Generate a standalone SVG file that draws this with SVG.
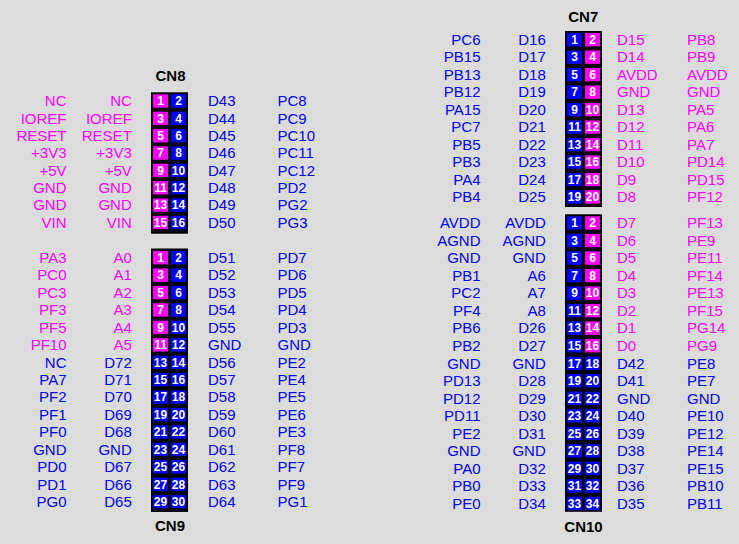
<svg xmlns="http://www.w3.org/2000/svg" width="739" height="544" viewBox="0 0 739 544">
<style>
text{font-family:"Liberation Sans",Arial,sans-serif}
.l{font-size:15px}
.e{text-anchor:end}
.pm{fill:#f0f}
.pb{fill:#00f}
.n{font-size:12px;font-weight:bold;fill:#fff;text-anchor:middle}
.t{font-size:15px;font-weight:bold;fill:#000;text-anchor:middle}
</style>
<rect width="739" height="544" fill="#dcdcdc"/>
<g id="connectors"/>

<g id="CN8">
<text class="t" x="170.5" y="81">CN8</text>
<rect x="151" y="92.3" width="37" height="141.4" fill="#000"/>
<g transform="translate(0,94.3)"><rect class="pm" x="153" width="15" height="13.4"/><rect class="pb" x="171" width="15" height="13.4"/><text class="n" x="160.5" y="11">1</text><text class="n" x="178.5" y="11">2</text><text class="l pm e" x="66.5" y="12">NC</text><text class="l pm e" x="131.8" y="12">NC</text><text class="l pb" x="208" y="12">D43</text><text class="l pb" x="277.5" y="12">PC8</text></g>
<g transform="translate(0,111.65)"><rect class="pm" x="153" width="15" height="13.4"/><rect class="pb" x="171" width="15" height="13.4"/><text class="n" x="160.5" y="11">3</text><text class="n" x="178.5" y="11">4</text><text class="l pm e" x="66.5" y="12">IOREF</text><text class="l pm e" x="131.8" y="12">IOREF</text><text class="l pb" x="208" y="12">D44</text><text class="l pb" x="277.5" y="12">PC9</text></g>
<g transform="translate(0,129)"><rect class="pm" x="153" width="15" height="13.4"/><rect class="pb" x="171" width="15" height="13.4"/><text class="n" x="160.5" y="11">5</text><text class="n" x="178.5" y="11">6</text><text class="l pm e" x="66.5" y="12">RESET</text><text class="l pm e" x="131.8" y="12">RESET</text><text class="l pb" x="208" y="12">D45</text><text class="l pb" x="277.5" y="12">PC10</text></g>
<g transform="translate(0,146.35)"><rect class="pm" x="153" width="15" height="13.4"/><rect class="pb" x="171" width="15" height="13.4"/><text class="n" x="160.5" y="11">7</text><text class="n" x="178.5" y="11">8</text><text class="l pm e" x="66.5" y="12">+3V3</text><text class="l pm e" x="131.8" y="12">+3V3</text><text class="l pb" x="208" y="12">D46</text><text class="l pb" x="277.5" y="12">PC11</text></g>
<g transform="translate(0,163.7)"><rect class="pm" x="153" width="15" height="13.4"/><rect class="pb" x="171" width="15" height="13.4"/><text class="n" x="160.5" y="11">9</text><text class="n" x="178.5" y="11">10</text><text class="l pm e" x="66.5" y="12">+5V</text><text class="l pm e" x="131.8" y="12">+5V</text><text class="l pb" x="208" y="12">D47</text><text class="l pb" x="277.5" y="12">PC12</text></g>
<g transform="translate(0,181.05)"><rect class="pm" x="153" width="15" height="13.4"/><rect class="pb" x="171" width="15" height="13.4"/><text class="n" x="160.5" y="11">11</text><text class="n" x="178.5" y="11">12</text><text class="l pm e" x="66.5" y="12">GND</text><text class="l pm e" x="131.8" y="12">GND</text><text class="l pb" x="208" y="12">D48</text><text class="l pb" x="277.5" y="12">PD2</text></g>
<g transform="translate(0,198.4)"><rect class="pm" x="153" width="15" height="13.4"/><rect class="pb" x="171" width="15" height="13.4"/><text class="n" x="160.5" y="11">13</text><text class="n" x="178.5" y="11">14</text><text class="l pm e" x="66.5" y="12">GND</text><text class="l pm e" x="131.8" y="12">GND</text><text class="l pb" x="208" y="12">D49</text><text class="l pb" x="277.5" y="12">PG2</text></g>
<g transform="translate(0,215.75)"><rect class="pm" x="153" width="15" height="13.4"/><rect class="pb" x="171" width="15" height="13.4"/><text class="n" x="160.5" y="11">15</text><text class="n" x="178.5" y="11">16</text><text class="l pm e" x="66.5" y="12">VIN</text><text class="l pm e" x="131.8" y="12">VIN</text><text class="l pb" x="208" y="12">D50</text><text class="l pb" x="277.5" y="12">PG3</text></g>
</g>

<g id="CN9">
<rect x="151" y="248.5" width="37" height="263.5" fill="#000"/>
<g transform="translate(0,251)"><rect class="pm" x="153" width="15" height="13.4"/><rect class="pb" x="171" width="15" height="13.4"/><text class="n" x="160.5" y="11">1</text><text class="n" x="178.5" y="11">2</text><text class="l pm e" x="66.5" y="12">PA3</text><text class="l pm e" x="131.8" y="12">A0</text><text class="l pb" x="208" y="12">D51</text><text class="l pb" x="277.5" y="12">PD7</text></g>
<g transform="translate(0,268.43)"><rect class="pm" x="153" width="15" height="13.4"/><rect class="pb" x="171" width="15" height="13.4"/><text class="n" x="160.5" y="11">3</text><text class="n" x="178.5" y="11">4</text><text class="l pm e" x="66.5" y="12">PC0</text><text class="l pm e" x="131.8" y="12">A1</text><text class="l pb" x="208" y="12">D52</text><text class="l pb" x="277.5" y="12">PD6</text></g>
<g transform="translate(0,285.86)"><rect class="pm" x="153" width="15" height="13.4"/><rect class="pb" x="171" width="15" height="13.4"/><text class="n" x="160.5" y="11">5</text><text class="n" x="178.5" y="11">6</text><text class="l pm e" x="66.5" y="12">PC3</text><text class="l pm e" x="131.8" y="12">A2</text><text class="l pb" x="208" y="12">D53</text><text class="l pb" x="277.5" y="12">PD5</text></g>
<g transform="translate(0,303.29)"><rect class="pm" x="153" width="15" height="13.4"/><rect class="pb" x="171" width="15" height="13.4"/><text class="n" x="160.5" y="11">7</text><text class="n" x="178.5" y="11">8</text><text class="l pm e" x="66.5" y="12">PF3</text><text class="l pm e" x="131.8" y="12">A3</text><text class="l pb" x="208" y="12">D54</text><text class="l pb" x="277.5" y="12">PD4</text></g>
<g transform="translate(0,320.72)"><rect class="pm" x="153" width="15" height="13.4"/><rect class="pb" x="171" width="15" height="13.4"/><text class="n" x="160.5" y="11">9</text><text class="n" x="178.5" y="11">10</text><text class="l pm e" x="66.5" y="12">PF5</text><text class="l pm e" x="131.8" y="12">A4</text><text class="l pb" x="208" y="12">D55</text><text class="l pb" x="277.5" y="12">PD3</text></g>
<g transform="translate(0,338.15)"><rect class="pm" x="153" width="15" height="13.4"/><rect class="pb" x="171" width="15" height="13.4"/><text class="n" x="160.5" y="11">11</text><text class="n" x="178.5" y="11">12</text><text class="l pm e" x="66.5" y="12">PF10</text><text class="l pm e" x="131.8" y="12">A5</text><text class="l pb" x="208" y="12">GND</text><text class="l pb" x="277.5" y="12">GND</text></g>
<g transform="translate(0,355.58)"><rect class="pb" x="153" width="15" height="13.4"/><rect class="pb" x="171" width="15" height="13.4"/><text class="n" x="160.5" y="11">13</text><text class="n" x="178.5" y="11">14</text><text class="l pb e" x="66.5" y="12">NC</text><text class="l pb e" x="131.8" y="12">D72</text><text class="l pb" x="208" y="12">D56</text><text class="l pb" x="277.5" y="12">PE2</text></g>
<g transform="translate(0,373.01)"><rect class="pb" x="153" width="15" height="13.4"/><rect class="pb" x="171" width="15" height="13.4"/><text class="n" x="160.5" y="11">15</text><text class="n" x="178.5" y="11">16</text><text class="l pb e" x="66.5" y="12">PA7</text><text class="l pb e" x="131.8" y="12">D71</text><text class="l pb" x="208" y="12">D57</text><text class="l pb" x="277.5" y="12">PE4</text></g>
<g transform="translate(0,390.44)"><rect class="pb" x="153" width="15" height="13.4"/><rect class="pb" x="171" width="15" height="13.4"/><text class="n" x="160.5" y="11">17</text><text class="n" x="178.5" y="11">18</text><text class="l pb e" x="66.5" y="12">PF2</text><text class="l pb e" x="131.8" y="12">D70</text><text class="l pb" x="208" y="12">D58</text><text class="l pb" x="277.5" y="12">PE5</text></g>
<g transform="translate(0,407.87)"><rect class="pb" x="153" width="15" height="13.4"/><rect class="pb" x="171" width="15" height="13.4"/><text class="n" x="160.5" y="11">19</text><text class="n" x="178.5" y="11">20</text><text class="l pb e" x="66.5" y="12">PF1</text><text class="l pb e" x="131.8" y="12">D69</text><text class="l pb" x="208" y="12">D59</text><text class="l pb" x="277.5" y="12">PE6</text></g>
<g transform="translate(0,425.3)"><rect class="pb" x="153" width="15" height="13.4"/><rect class="pb" x="171" width="15" height="13.4"/><text class="n" x="160.5" y="11">21</text><text class="n" x="178.5" y="11">22</text><text class="l pb e" x="66.5" y="12">PF0</text><text class="l pb e" x="131.8" y="12">D68</text><text class="l pb" x="208" y="12">D60</text><text class="l pb" x="277.5" y="12">PE3</text></g>
<g transform="translate(0,442.73)"><rect class="pb" x="153" width="15" height="13.4"/><rect class="pb" x="171" width="15" height="13.4"/><text class="n" x="160.5" y="11">23</text><text class="n" x="178.5" y="11">24</text><text class="l pb e" x="66.5" y="12">GND</text><text class="l pb e" x="131.8" y="12">GND</text><text class="l pb" x="208" y="12">D61</text><text class="l pb" x="277.5" y="12">PF8</text></g>
<g transform="translate(0,460.16)"><rect class="pb" x="153" width="15" height="13.4"/><rect class="pb" x="171" width="15" height="13.4"/><text class="n" x="160.5" y="11">25</text><text class="n" x="178.5" y="11">26</text><text class="l pb e" x="66.5" y="12">PD0</text><text class="l pb e" x="131.8" y="12">D67</text><text class="l pb" x="208" y="12">D62</text><text class="l pb" x="277.5" y="12">PF7</text></g>
<g transform="translate(0,477.59)"><rect class="pb" x="153" width="15" height="13.4"/><rect class="pb" x="171" width="15" height="13.4"/><text class="n" x="160.5" y="11">27</text><text class="n" x="178.5" y="11">28</text><text class="l pb e" x="66.5" y="12">PD1</text><text class="l pb e" x="131.8" y="12">D66</text><text class="l pb" x="208" y="12">D63</text><text class="l pb" x="277.5" y="12">PF9</text></g>
<g transform="translate(0,495.02)"><rect class="pb" x="153" width="15" height="13.4"/><rect class="pb" x="171" width="15" height="13.4"/><text class="n" x="160.5" y="11">29</text><text class="n" x="178.5" y="11">30</text><text class="l pb e" x="66.5" y="12">PG0</text><text class="l pb e" x="131.8" y="12">D65</text><text class="l pb" x="208" y="12">D64</text><text class="l pb" x="277.5" y="12">PG1</text></g>
<text class="t" x="170" y="531">CN9</text>
</g>

<g id="CN7">
<text class="t" x="583.3" y="21.5">CN7</text>
<rect x="565" y="31" width="37" height="176" fill="#000"/>
<g transform="translate(0,33)"><rect class="pb" x="567" width="15" height="13.4"/><rect class="pm" x="585" width="15" height="13.4"/><text class="n" x="574.5" y="11">1</text><text class="n" x="592.5" y="11">2</text><text class="l pb e" x="480.5" y="12">PC6</text><text class="l pb e" x="545.8" y="12">D16</text><text class="l pm" x="617" y="12">D15</text><text class="l pm" x="687" y="12">PB8</text></g>
<g transform="translate(0,50.48)"><rect class="pb" x="567" width="15" height="13.4"/><rect class="pm" x="585" width="15" height="13.4"/><text class="n" x="574.5" y="11">3</text><text class="n" x="592.5" y="11">4</text><text class="l pb e" x="480.5" y="12">PB15</text><text class="l pb e" x="545.8" y="12">D17</text><text class="l pm" x="617" y="12">D14</text><text class="l pm" x="687" y="12">PB9</text></g>
<g transform="translate(0,67.96)"><rect class="pb" x="567" width="15" height="13.4"/><rect class="pm" x="585" width="15" height="13.4"/><text class="n" x="574.5" y="11">5</text><text class="n" x="592.5" y="11">6</text><text class="l pb e" x="480.5" y="12">PB13</text><text class="l pb e" x="545.8" y="12">D18</text><text class="l pm" x="617" y="12">AVDD</text><text class="l pm" x="687" y="12">AVDD</text></g>
<g transform="translate(0,85.44)"><rect class="pb" x="567" width="15" height="13.4"/><rect class="pm" x="585" width="15" height="13.4"/><text class="n" x="574.5" y="11">7</text><text class="n" x="592.5" y="11">8</text><text class="l pb e" x="480.5" y="12">PB12</text><text class="l pb e" x="545.8" y="12">D19</text><text class="l pm" x="617" y="12">GND</text><text class="l pm" x="687" y="12">GND</text></g>
<g transform="translate(0,102.92)"><rect class="pb" x="567" width="15" height="13.4"/><rect class="pm" x="585" width="15" height="13.4"/><text class="n" x="574.5" y="11">9</text><text class="n" x="592.5" y="11">10</text><text class="l pb e" x="480.5" y="12">PA15</text><text class="l pb e" x="545.8" y="12">D20</text><text class="l pm" x="617" y="12">D13</text><text class="l pm" x="687" y="12">PA5</text></g>
<g transform="translate(0,120.4)"><rect class="pb" x="567" width="15" height="13.4"/><rect class="pm" x="585" width="15" height="13.4"/><text class="n" x="574.5" y="11">11</text><text class="n" x="592.5" y="11">12</text><text class="l pb e" x="480.5" y="12">PC7</text><text class="l pb e" x="545.8" y="12">D21</text><text class="l pm" x="617" y="12">D12</text><text class="l pm" x="687" y="12">PA6</text></g>
<g transform="translate(0,137.88)"><rect class="pb" x="567" width="15" height="13.4"/><rect class="pm" x="585" width="15" height="13.4"/><text class="n" x="574.5" y="11">13</text><text class="n" x="592.5" y="11">14</text><text class="l pb e" x="480.5" y="12">PB5</text><text class="l pb e" x="545.8" y="12">D22</text><text class="l pm" x="617" y="12">D11</text><text class="l pm" x="687" y="12">PA7</text></g>
<g transform="translate(0,155.36)"><rect class="pb" x="567" width="15" height="13.4"/><rect class="pm" x="585" width="15" height="13.4"/><text class="n" x="574.5" y="11">15</text><text class="n" x="592.5" y="11">16</text><text class="l pb e" x="480.5" y="12">PB3</text><text class="l pb e" x="545.8" y="12">D23</text><text class="l pm" x="617" y="12">D10</text><text class="l pm" x="687" y="12">PD14</text></g>
<g transform="translate(0,172.84)"><rect class="pb" x="567" width="15" height="13.4"/><rect class="pm" x="585" width="15" height="13.4"/><text class="n" x="574.5" y="11">17</text><text class="n" x="592.5" y="11">18</text><text class="l pb e" x="480.5" y="12">PA4</text><text class="l pb e" x="545.8" y="12">D24</text><text class="l pm" x="617" y="12">D9</text><text class="l pm" x="687" y="12">PD15</text></g>
<g transform="translate(0,190.32)"><rect class="pb" x="567" width="15" height="13.4"/><rect class="pm" x="585" width="15" height="13.4"/><text class="n" x="574.5" y="11">19</text><text class="n" x="592.5" y="11">20</text><text class="l pb e" x="480.5" y="12">PB4</text><text class="l pb e" x="545.8" y="12">D25</text><text class="l pm" x="617" y="12">D8</text><text class="l pm" x="687" y="12">PF12</text></g>
</g>

<g id="CN10">
<rect x="565" y="214.3" width="37" height="297.5" fill="#000"/>
<g transform="translate(0,216.3)"><rect class="pb" x="567" width="15" height="13.4"/><rect class="pm" x="585" width="15" height="13.4"/><text class="n" x="574.5" y="11">1</text><text class="n" x="592.5" y="11">2</text><text class="l pb e" x="480.5" y="12">AVDD</text><text class="l pb e" x="545.8" y="12">AVDD</text><text class="l pm" x="617" y="12">D7</text><text class="l pm" x="687" y="12">PF13</text></g>
<g transform="translate(0,233.83)"><rect class="pb" x="567" width="15" height="13.4"/><rect class="pm" x="585" width="15" height="13.4"/><text class="n" x="574.5" y="11">3</text><text class="n" x="592.5" y="11">4</text><text class="l pb e" x="480.5" y="12">AGND</text><text class="l pb e" x="545.8" y="12">AGND</text><text class="l pm" x="617" y="12">D6</text><text class="l pm" x="687" y="12">PE9</text></g>
<g transform="translate(0,251.36)"><rect class="pb" x="567" width="15" height="13.4"/><rect class="pm" x="585" width="15" height="13.4"/><text class="n" x="574.5" y="11">5</text><text class="n" x="592.5" y="11">6</text><text class="l pb e" x="480.5" y="12">GND</text><text class="l pb e" x="545.8" y="12">GND</text><text class="l pm" x="617" y="12">D5</text><text class="l pm" x="687" y="12">PE11</text></g>
<g transform="translate(0,268.89)"><rect class="pb" x="567" width="15" height="13.4"/><rect class="pm" x="585" width="15" height="13.4"/><text class="n" x="574.5" y="11">7</text><text class="n" x="592.5" y="11">8</text><text class="l pb e" x="480.5" y="12">PB1</text><text class="l pb e" x="545.8" y="12">A6</text><text class="l pm" x="617" y="12">D4</text><text class="l pm" x="687" y="12">PF14</text></g>
<g transform="translate(0,286.42)"><rect class="pb" x="567" width="15" height="13.4"/><rect class="pm" x="585" width="15" height="13.4"/><text class="n" x="574.5" y="11">9</text><text class="n" x="592.5" y="11">10</text><text class="l pb e" x="480.5" y="12">PC2</text><text class="l pb e" x="545.8" y="12">A7</text><text class="l pm" x="617" y="12">D3</text><text class="l pm" x="687" y="12">PE13</text></g>
<g transform="translate(0,303.95)"><rect class="pb" x="567" width="15" height="13.4"/><rect class="pm" x="585" width="15" height="13.4"/><text class="n" x="574.5" y="11">11</text><text class="n" x="592.5" y="11">12</text><text class="l pb e" x="480.5" y="12">PF4</text><text class="l pb e" x="545.8" y="12">A8</text><text class="l pm" x="617" y="12">D2</text><text class="l pm" x="687" y="12">PF15</text></g>
<g transform="translate(0,321.48)"><rect class="pb" x="567" width="15" height="13.4"/><rect class="pm" x="585" width="15" height="13.4"/><text class="n" x="574.5" y="11">13</text><text class="n" x="592.5" y="11">14</text><text class="l pb e" x="480.5" y="12">PB6</text><text class="l pb e" x="545.8" y="12">D26</text><text class="l pm" x="617" y="12">D1</text><text class="l pm" x="687" y="12">PG14</text></g>
<g transform="translate(0,339.01)"><rect class="pb" x="567" width="15" height="13.4"/><rect class="pm" x="585" width="15" height="13.4"/><text class="n" x="574.5" y="11">15</text><text class="n" x="592.5" y="11">16</text><text class="l pb e" x="480.5" y="12">PB2</text><text class="l pb e" x="545.8" y="12">D27</text><text class="l pm" x="617" y="12">D0</text><text class="l pm" x="687" y="12">PG9</text></g>
<g transform="translate(0,356.54)"><rect class="pb" x="567" width="15" height="13.4"/><rect class="pb" x="585" width="15" height="13.4"/><text class="n" x="574.5" y="11">17</text><text class="n" x="592.5" y="11">18</text><text class="l pb e" x="480.5" y="12">GND</text><text class="l pb e" x="545.8" y="12">GND</text><text class="l pb" x="617" y="12">D42</text><text class="l pb" x="687" y="12">PE8</text></g>
<g transform="translate(0,374.07)"><rect class="pb" x="567" width="15" height="13.4"/><rect class="pb" x="585" width="15" height="13.4"/><text class="n" x="574.5" y="11">19</text><text class="n" x="592.5" y="11">20</text><text class="l pb e" x="480.5" y="12">PD13</text><text class="l pb e" x="545.8" y="12">D28</text><text class="l pb" x="617" y="12">D41</text><text class="l pb" x="687" y="12">PE7</text></g>
<g transform="translate(0,391.6)"><rect class="pb" x="567" width="15" height="13.4"/><rect class="pb" x="585" width="15" height="13.4"/><text class="n" x="574.5" y="11">21</text><text class="n" x="592.5" y="11">22</text><text class="l pb e" x="480.5" y="12">PD12</text><text class="l pb e" x="545.8" y="12">D29</text><text class="l pb" x="617" y="12">GND</text><text class="l pb" x="687" y="12">GND</text></g>
<g transform="translate(0,409.13)"><rect class="pb" x="567" width="15" height="13.4"/><rect class="pb" x="585" width="15" height="13.4"/><text class="n" x="574.5" y="11">23</text><text class="n" x="592.5" y="11">24</text><text class="l pb e" x="480.5" y="12">PD11</text><text class="l pb e" x="545.8" y="12">D30</text><text class="l pb" x="617" y="12">D40</text><text class="l pb" x="687" y="12">PE10</text></g>
<g transform="translate(0,426.66)"><rect class="pb" x="567" width="15" height="13.4"/><rect class="pb" x="585" width="15" height="13.4"/><text class="n" x="574.5" y="11">25</text><text class="n" x="592.5" y="11">26</text><text class="l pb e" x="480.5" y="12">PE2</text><text class="l pb e" x="545.8" y="12">D31</text><text class="l pb" x="617" y="12">D39</text><text class="l pb" x="687" y="12">PE12</text></g>
<g transform="translate(0,444.19)"><rect class="pb" x="567" width="15" height="13.4"/><rect class="pb" x="585" width="15" height="13.4"/><text class="n" x="574.5" y="11">27</text><text class="n" x="592.5" y="11">28</text><text class="l pb e" x="480.5" y="12">GND</text><text class="l pb e" x="545.8" y="12">GND</text><text class="l pb" x="617" y="12">D38</text><text class="l pb" x="687" y="12">PE14</text></g>
<g transform="translate(0,461.72)"><rect class="pb" x="567" width="15" height="13.4"/><rect class="pb" x="585" width="15" height="13.4"/><text class="n" x="574.5" y="11">29</text><text class="n" x="592.5" y="11">30</text><text class="l pb e" x="480.5" y="12">PA0</text><text class="l pb e" x="545.8" y="12">D32</text><text class="l pb" x="617" y="12">D37</text><text class="l pb" x="687" y="12">PE15</text></g>
<g transform="translate(0,479.25)"><rect class="pb" x="567" width="15" height="13.4"/><rect class="pb" x="585" width="15" height="13.4"/><text class="n" x="574.5" y="11">31</text><text class="n" x="592.5" y="11">32</text><text class="l pb e" x="480.5" y="12">PB0</text><text class="l pb e" x="545.8" y="12">D33</text><text class="l pb" x="617" y="12">D36</text><text class="l pb" x="687" y="12">PB10</text></g>
<g transform="translate(0,496.78)"><rect class="pb" x="567" width="15" height="13.4"/><rect class="pb" x="585" width="15" height="13.4"/><text class="n" x="574.5" y="11">33</text><text class="n" x="592.5" y="11">34</text><text class="l pb e" x="480.5" y="12">PE0</text><text class="l pb e" x="545.8" y="12">D34</text><text class="l pb" x="617" y="12">D35</text><text class="l pb" x="687" y="12">PB11</text></g>
<text class="t" x="583.5" y="531.5">CN10</text>
</g>
</svg>
